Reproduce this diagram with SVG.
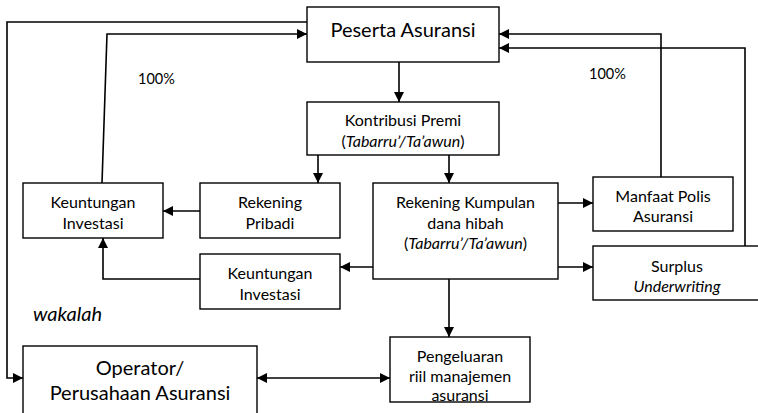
<svg xmlns="http://www.w3.org/2000/svg" width="758" height="413" viewBox="0 0 758 413">
<defs>
<marker id="ah" viewBox="0 0 10 10" refX="10" refY="5" markerWidth="10" markerHeight="10" markerUnits="userSpaceOnUse" orient="auto-start-reverse">
<path d="M0,0 L10,5 L0,10 Z" fill="#000"/>
</marker>
<style>
.box{fill:#fff;stroke:#000;stroke-width:1.4}
.t{font-family:Lato,"Liberation Sans",sans-serif;font-size:16px;fill:#000;text-anchor:middle}
.big{font-size:20px}
.i{font-style:italic}
.c1{fill:none;stroke:#000;stroke-width:1.6;marker-end:url(#ah)}
.lab{font-family:Lato,"Liberation Sans",sans-serif;font-size:14.5px;fill:#000}
</style>
</defs>
<rect width="758" height="413" fill="#fff"/>
<g id="connectors">
<polyline class="c1" points="307,22 7,22 7,378 23,378"/>
<polyline class="c1" points="102,183 107,34 307,34"/>
<polyline class="c1" points="661,177 661,34 499,34"/>
<polyline class="c1" points="745,246 745,48 499,48"/>
<line class="c1" x1="399" y1="62" x2="399" y2="102"/>
<line class="c1" x1="318" y1="155" x2="318" y2="183"/>
<line class="c1" x1="449" y1="155" x2="449" y2="183"/>
<line class="c1" x1="200" y1="211" x2="163" y2="211"/>
<line class="c1" x1="373" y1="267" x2="340" y2="267"/>
<polyline class="c1" points="200,279 103,279 103,238"/>
<line class="c1" x1="558" y1="203" x2="593" y2="203"/>
<line class="c1" x1="558" y1="267" x2="593" y2="267"/>
<line class="c1" x1="449" y1="279" x2="449" y2="337"/>
<line class="c1" x1="257" y1="378" x2="390" y2="378" style="marker-start:url(#ah)"/>
</g>
<g id="peserta">
<rect class="box" x="307" y="7" width="192" height="55"/>
<text class="t big" x="403" y="37">Peserta Asuransi</text>
</g>
<g id="kontribusi">
<rect class="box" x="307" y="102" width="192" height="53"/>
<text class="t" x="403" y="125.5">Kontribusi Premi</text>
<text class="t" x="403" y="146.5">(<tspan class="i">Tabarru’/Ta’awun</tspan>)</text>
</g>
<g id="keuntungan1">
<rect class="box" x="23" y="183" width="140" height="55"/>
<text class="t" x="93" y="207.5">Keuntungan</text>
<text class="t" x="93" y="228.5">Investasi</text>
</g>
<g id="pribadi">
<rect class="box" x="200" y="183" width="140" height="55"/>
<text class="t" x="270" y="207.5">Rekening</text>
<text class="t" x="270" y="228.5">Pribadi</text>
</g>
<g id="kumpulan">
<rect class="box" x="373" y="183" width="185" height="96"/>
<text class="t" x="465.5" y="207.5">Rekening Kumpulan</text>
<text class="t" x="465.5" y="228.5">dana hibah</text>
<text class="t" x="465.5" y="248.5">(<tspan class="i">Tabarru’/Ta’awun</tspan>)</text>
</g>
<g id="manfaat">
<rect class="box" x="593" y="177" width="140" height="54"/>
<text class="t" x="663" y="201.5">Manfaat Polis</text>
<text class="t" x="663" y="221.5">Asuransi</text>
</g>
<g id="surplus">
<rect class="box" x="593" y="246" width="200" height="54"/>
<text class="t" x="677" y="271.5">Surplus</text>
<text class="t i" x="677" y="291.5">Underwriting</text>
</g>
<g id="keuntungan2">
<rect class="box" x="200" y="254" width="140" height="55"/>
<text class="t" x="270" y="278.5">Keuntungan</text>
<text class="t" x="270" y="299.5">Investasi</text>
</g>
<g id="pengeluaran">
<rect class="box" x="390" y="337" width="140" height="65"/>
<text class="t" x="460" y="362">Pengeluaran</text>
<text class="t" x="460" y="381.5">riil manajemen</text>
<text class="t" x="460" y="401">asuransi</text>
</g>
<g id="operator">
<rect class="box" x="23" y="346" width="234" height="80"/>
<text class="t big" x="140" y="375">Operator/</text>
<text class="t big" x="140" y="400">Perusahaan Asuransi</text>
</g>
<g id="labels">
<text class="lab" x="138" y="84">100%</text>
<text class="lab" x="589" y="79">100%</text>
<text class="lab i" x="33" y="321" style="font-size:20px">wakalah</text>
</g>
</svg>
